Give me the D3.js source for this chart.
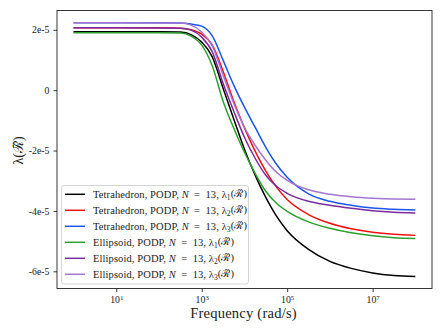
<!DOCTYPE html>
<html><head><meta charset="utf-8">
<script src="https://d3js.org/d3.v7.min.js"></script>
<style>body{margin:0;background:#fff}svg{display:block}</style>
</head><body><div id="chart"></div>
<script>
// log10 of frequency (rad/s) at which each series was read
const logFreq = [0, 1, 2, 2.5, 2.75, 3, 3.25, 3.5, 3.75, 4, 4.25, 4.5, 4.75, 5, 5.5, 6, 6.5, 7, 7.5, 8];
// eigenvalues, units of 1e-5
const tetraL1 = [1.940, 1.940, 1.938, 1.924, 1.841, 1.592, 1.095, 0.066, -0.954, -1.954, -2.814, -3.554, -4.174, -4.654, -5.274, -5.672, -5.904, -6.053, -6.136, -6.169];
const tetraL2 = [2.070, 2.070, 2.068, 2.056, 2.007, 1.857, 1.493, 0.630, -0.370, -1.250, -2.020, -2.680, -3.210, -3.620, -4.120, -4.411, -4.594, -4.710, -4.776, -4.810];
const tetraL3 = [2.232, 2.232, 2.231, 2.222, 2.189, 2.123, 1.791, 0.995, 0.166, -0.564, -1.227, -1.891, -2.454, -2.886, -3.433, -3.682, -3.814, -3.907, -3.947, -3.970];
const ellL1 = [1.900, 1.900, 1.899, 1.891, 1.791, 1.493, 0.796, -0.365, -1.260, -2.056, -2.753, -3.350, -3.748, -4.013, -4.362, -4.577, -4.726, -4.826, -4.886, -4.910];
const ellL2 = [2.066, 2.066, 2.064, 2.056, 1.990, 1.758, 1.260, 0.232, -0.697, -1.559, -2.255, -2.819, -3.184, -3.416, -3.682, -3.814, -3.914, -3.997, -4.046, -4.070];
const ellL3 = [2.232, 2.232, 2.230, 2.222, 2.156, 1.924, 1.459, 0.497, -0.431, -1.227, -1.824, -2.322, -2.720, -2.985, -3.300, -3.449, -3.532, -3.582, -3.609, -3.615];

const seriesNames = ["Tetrahedron", "Tetrahedron", "Tetrahedron", "Ellipsoid", "Ellipsoid", "Ellipsoid"];
const seriesIdx = ["1", "2", "3", "1", "2", "3"];
const seriesColors = ["#000000", "#ee1111", "#1a56e8", "#2ca02c", "#7a2c9e", "#a276d2"];
const seriesData = [tetraL1, tetraL2, tetraL3, ellL1, ellL2, ellL3];

const yTicks = [2e-5, 0, -2e-5, -4e-5, -6e-5];
const yTickLabels = ["2e-5", "0", "-2e-5", "-4e-5", "-6e-5"];
const xTickExps = [1, 3, 5, 7];

const W = 443, H = 332;
const L = 57, R = 432, T = 10.5, B = 288.5;
const serif = "'Liberation Serif','Times New Roman',serif";

const svg = d3.select("#chart").append("svg").attr("width", W).attr("height", H);

const x = d3.scaleLog().domain([Math.pow(10, -0.387), Math.pow(10, 8.39)]).range([L, R]);
const y = d3.scaleLinear().domain([-6.57e-5, 2.64e-5]).range([B, T]);

// lines
const line = d3.line().x(d => x(d[0])).y(d => y(d[1])).curve(d3.curveMonotoneX);
seriesData.forEach((arr, i) => {
  const pts = logFreq.map((lf, j) => [Math.pow(10, lf), arr[j] * 1e-5]);
  svg.append("path").datum(pts).attr("d", line)
    .attr("fill", "none").attr("stroke", seriesColors[i]).attr("stroke-width", 1.5);
});

// frame
svg.append("rect").attr("x", L).attr("y", T).attr("width", R - L).attr("height", B - T)
  .attr("fill", "none").attr("stroke", "#222").attr("stroke-width", 0.9);

// y axis
const yAxis = d3.axisLeft(y).tickValues(yTicks).tickSize(3.5).tickPadding(4)
  .tickFormat((d, i) => yTickLabels[i]);
const gy = svg.append("g").attr("transform", `translate(${L},0)`).call(yAxis);
gy.select(".domain").remove();
gy.selectAll("line").attr("stroke", "#222").attr("stroke-width", 0.9);
gy.selectAll("text").attr("font-family", serif).attr("font-size", 9.8).attr("fill", "#222");

// x axis
const xAxis = d3.axisBottom(x).tickValues(xTickExps.map(e => Math.pow(10, e))).tickSize(3.5).tickPadding(4)
  .tickFormat(() => "");
const gx = svg.append("g").attr("transform", `translate(0,${B})`).call(xAxis);
gx.select(".domain").remove();
gx.selectAll("line").attr("stroke", "#222").attr("stroke-width", 0.9);
gx.selectAll(".tick").each(function(d, i) {
  const t = d3.select(this).select("text").attr("font-family", serif).attr("font-size", 9.8)
    .attr("fill", "#222").attr("y", 8).attr("dy", "0.71em");
  t.append("tspan").text("10");
  t.append("tspan").attr("dy", "-0.45em").attr("font-size", 6.8).text(xTickExps[i]);
});

// axis labels
svg.append("text").attr("x", (L + R) / 2 - 1).attr("y", 318).attr("text-anchor", "middle")
  .attr("font-family", serif).attr("font-size", 14.6).attr("letter-spacing", 0.2).attr("fill", "#222").text("Frequency (rad/s)");
svg.append("text").attr("transform", `translate(23,${(T + B) / 2 + 1}) rotate(-90)`).attr("text-anchor", "middle")
  .attr("font-family", serif).attr("font-size", 14).attr("fill", "#222").text("λ(ℛ\u0303)");

// legend
const lg = svg.append("g");
lg.append("rect").attr("x", 61.5).attr("y", 185.5).attr("width", 187).attr("height", 98.5)
  .attr("rx", 2.5).attr("fill", "#fff").attr("fill-opacity", 0.8).attr("stroke", "#d0d0d0").attr("stroke-width", 0.9);
seriesNames.forEach((nm, i) => {
  const yy = 194.3 + i * 16;
  lg.append("line").attr("x1", 65).attr("x2", 85).attr("y1", yy).attr("y2", yy)
    .attr("stroke", seriesColors[i]).attr("stroke-width", 1.5);
  const t = lg.append("text").attr("x", 93).attr("y", yy).attr("dy", "0.35em")
    .attr("font-family", serif).attr("font-size", 10.5).attr("letter-spacing", 0.1).attr("fill", "#222");
  t.append("tspan").text(nm + ", PODP, ");
  t.append("tspan").attr("font-style", "italic").text("N");
  t.append("tspan").text("\u2002=\u200213, λ");
  t.append("tspan").attr("dy", "0.3em").attr("font-size", 7.5).text(seriesIdx[i]);
  t.append("tspan").attr("dy", "-0.3em").text("(ℛ\u0303)");
});
</script></body></html>
